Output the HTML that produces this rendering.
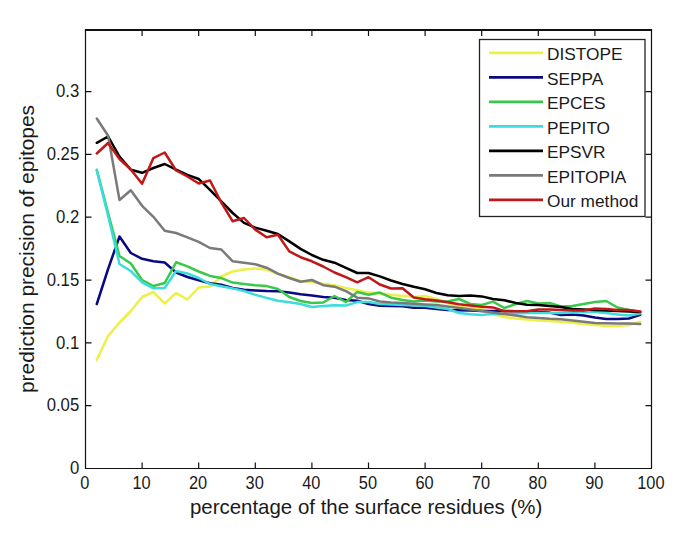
<!DOCTYPE html>
<html><head><meta charset="utf-8"><style>
html,body{margin:0;padding:0;background:#fff;}
body{width:685px;height:543px;overflow:hidden;}
svg{display:block;}
text{font-family:"Liberation Sans",sans-serif;fill:#1a1a1a;}
</style></head><body>
<svg width="685" height="543" viewBox="0 0 685 543">
<rect x="0" y="0" width="685" height="543" fill="#fff"/>

<g fill="none" stroke-width="2.5" stroke-linejoin="round" stroke-linecap="round">
<polyline stroke="#ecf048" points="96.8,359.8 108.1,336.0 119.5,322.5 130.8,311.0 142.1,297.0 153.4,292.0 164.7,303.5 176.1,293.0 187.4,299.5 198.7,287.5 210.0,286.5 221.3,276.5 232.7,271.5 244.0,269.5 255.3,268.5 266.6,269.5 277.9,274.0 289.3,277.2 300.6,281.0 311.9,282.0 323.2,283.7 334.5,285.2 345.9,288.1 357.2,290.3 368.5,292.6 379.8,293.3 391.1,294.8 402.5,296.0 413.8,297.0 425.1,296.0 436.4,299.0 447.7,303.0 459.1,307.0 470.4,308.0 481.7,309.0 493.0,314.0 504.3,317.0 515.7,318.5 527.0,319.5 538.3,320.5 549.6,321.0 560.9,321.8 572.3,322.8 583.6,324.0 594.9,325.0 606.2,326.0 617.5,326.0 628.9,325.0 640.2,322.0"/>
<polyline stroke="#0a0a80" points="96.8,304.0 108.1,269.0 119.5,236.5 130.8,253.0 142.1,258.8 153.4,261.2 164.7,262.5 176.1,272.5 187.4,277.0 198.7,280.2 210.0,283.3 221.3,284.8 232.7,288.0 244.0,289.8 255.3,290.5 266.6,291.0 277.9,291.2 289.3,292.4 300.6,294.2 311.9,295.5 323.2,297.0 334.5,297.7 345.9,299.9 357.2,300.7 368.5,304.0 379.8,305.8 391.1,306.0 402.5,306.2 413.8,307.7 425.1,307.7 436.4,309.0 447.7,310.0 459.1,310.3 470.4,310.6 481.7,311.0 493.0,311.0 504.3,311.0 515.7,311.2 527.0,311.5 538.3,312.0 549.6,312.6 560.9,315.0 572.3,314.6 583.6,315.6 594.9,317.5 606.2,319.0 617.5,319.0 628.9,318.5 640.2,314.7"/>
<polyline stroke="#3ac84a" points="96.8,169.7 108.1,213.0 119.5,256.0 130.8,263.5 142.1,280.0 153.4,286.0 164.7,283.0 176.1,262.3 187.4,266.4 198.7,271.5 210.0,275.9 221.3,278.1 232.7,282.6 244.0,284.0 255.3,285.3 266.6,286.1 277.9,289.0 289.3,297.0 300.6,301.0 311.9,303.0 323.2,302.5 334.5,296.0 345.9,302.0 357.2,292.0 368.5,294.8 379.8,292.6 391.1,297.7 402.5,300.0 413.8,301.5 425.1,300.5 436.4,301.5 447.7,301.5 459.1,299.0 470.4,304.0 481.7,305.0 493.0,301.6 504.3,308.0 515.7,304.0 527.0,301.0 538.3,303.5 549.6,303.0 560.9,306.5 572.3,306.0 583.6,304.0 594.9,302.0 606.2,301.0 617.5,307.5 628.9,310.0 640.2,312.0"/>
<polyline stroke="#3cdcdc" points="96.8,170.5 108.1,216.0 119.5,264.0 130.8,271.0 142.1,282.4 153.4,288.3 164.7,288.0 176.1,271.0 187.4,273.5 198.7,278.0 210.0,284.0 221.3,286.2 232.7,288.4 244.0,291.0 255.3,294.9 266.6,297.9 277.9,300.8 289.3,302.3 300.6,304.0 311.9,307.0 323.2,306.1 334.5,305.2 345.9,305.6 357.2,302.1 368.5,302.1 379.8,304.0 391.1,304.5 402.5,305.0 413.8,305.5 425.1,306.0 436.4,307.6 447.7,309.0 459.1,313.0 470.4,314.2 481.7,315.0 493.0,313.8 504.3,314.0 515.7,313.5 527.0,313.0 538.3,313.0 549.6,313.0 560.9,313.0 572.3,312.5 583.6,312.0 594.9,312.0 606.2,313.1 617.5,314.6 628.9,315.6 640.2,313.4"/>
<polyline stroke="#000000" points="96.8,142.8 108.1,136.5 119.5,156.5 130.8,169.8 142.1,172.8 153.4,168.0 164.7,164.0 176.1,169.7 187.4,174.9 198.7,179.0 210.0,189.8 221.3,201.4 232.7,213.0 244.0,222.9 255.3,227.6 266.6,230.7 277.9,234.0 289.3,241.4 300.6,248.9 311.9,255.0 323.2,259.8 334.5,262.7 345.9,267.8 357.2,273.0 368.5,273.0 379.8,276.4 391.1,280.5 402.5,284.0 413.8,286.8 425.1,289.3 436.4,293.0 447.7,295.2 459.1,296.0 470.4,295.5 481.7,296.4 493.0,299.0 504.3,300.3 515.7,302.9 527.0,304.8 538.3,304.9 549.6,305.9 560.9,307.0 572.3,309.0 583.6,309.5 594.9,310.0 606.2,310.5 617.5,311.0 628.9,311.5 640.2,312.0"/>
<polyline stroke="#7a7a7a" points="96.8,118.5 108.1,135.7 119.5,200.0 130.8,190.3 142.1,205.8 153.4,216.8 164.7,230.8 176.1,233.0 187.4,237.4 198.7,241.9 210.0,248.0 221.3,249.5 232.7,261.3 244.0,262.8 255.3,264.2 266.6,267.7 277.9,273.6 289.3,278.0 300.6,281.7 311.9,280.0 323.2,285.2 334.5,286.7 345.9,291.1 357.2,297.7 368.5,298.4 379.8,301.5 391.1,302.5 402.5,303.0 413.8,303.8 425.1,304.5 436.4,305.0 447.7,306.5 459.1,308.0 470.4,309.5 481.7,311.0 493.0,312.5 504.3,314.0 515.7,315.5 527.0,317.2 538.3,318.0 549.6,318.8 560.9,319.3 572.3,320.4 583.6,321.7 594.9,323.0 606.2,323.2 617.5,323.4 628.9,323.6 640.2,324.0"/>
<polyline stroke="#c01818" points="96.8,153.5 108.1,143.0 119.5,159.0 130.8,169.5 142.1,183.8 153.4,158.1 164.7,152.5 176.1,170.5 187.4,176.5 198.7,183.5 210.0,180.5 221.3,202.5 232.7,221.3 244.0,218.0 255.3,229.6 266.6,237.3 277.9,234.8 289.3,251.4 300.6,257.2 311.9,261.3 323.2,266.5 334.5,272.5 345.9,277.2 357.2,282.3 368.5,277.2 379.8,284.5 391.1,288.5 402.5,288.3 413.8,297.5 425.1,299.3 436.4,300.6 447.7,302.2 459.1,304.2 470.4,305.5 481.7,306.8 493.0,307.4 504.3,311.2 515.7,311.2 527.0,311.2 538.3,309.5 549.6,309.5 560.9,310.0 572.3,310.5 583.6,310.5 594.9,308.5 606.2,309.0 617.5,310.0 628.9,310.0 640.2,311.6"/>
</g>
<g stroke="#111" stroke-width="1.2" fill="none">
<path d="M85.5 30.0V468.5H651.5V30.0"/>
<path d="M84.9 30H652.1" stroke-width="2"/>
<path d="M142.1 468.5v-6 M142.1 30.0v6"/>
<path d="M198.7 468.5v-6 M198.7 30.0v6"/>
<path d="M255.3 468.5v-6 M255.3 30.0v6"/>
<path d="M311.9 468.5v-6 M311.9 30.0v6"/>
<path d="M368.5 468.5v-6 M368.5 30.0v6"/>
<path d="M425.1 468.5v-6 M425.1 30.0v6"/>
<path d="M481.7 468.5v-6 M481.7 30.0v6"/>
<path d="M538.3 468.5v-6 M538.3 30.0v6"/>
<path d="M594.9 468.5v-6 M594.9 30.0v6"/>
<path d="M85.5 405.7h6 M651.5 405.7h-6"/>
<path d="M85.5 342.9h6 M651.5 342.9h-6"/>
<path d="M85.5 280.1h6 M651.5 280.1h-6"/>
<path d="M85.5 217.2h6 M651.5 217.2h-6"/>
<path d="M85.5 154.4h6 M651.5 154.4h-6"/>
<path d="M85.5 91.6h6 M651.5 91.6h-6"/>
</g>
<g font-size="17.8">
<text transform="translate(84.9,488.6) scale(0.92,1)" text-anchor="middle">0</text>
<text transform="translate(141.5,488.6) scale(0.92,1)" text-anchor="middle">10</text>
<text transform="translate(198.1,488.6) scale(0.92,1)" text-anchor="middle">20</text>
<text transform="translate(254.7,488.6) scale(0.92,1)" text-anchor="middle">30</text>
<text transform="translate(311.3,488.6) scale(0.92,1)" text-anchor="middle">40</text>
<text transform="translate(367.9,488.6) scale(0.92,1)" text-anchor="middle">50</text>
<text transform="translate(424.5,488.6) scale(0.92,1)" text-anchor="middle">60</text>
<text transform="translate(481.1,488.6) scale(0.92,1)" text-anchor="middle">70</text>
<text transform="translate(537.7,488.6) scale(0.92,1)" text-anchor="middle">80</text>
<text transform="translate(594.3,488.6) scale(0.92,1)" text-anchor="middle">90</text>
<text transform="translate(650.9,488.6) scale(0.92,1)" text-anchor="middle">100</text>
<text transform="translate(79.2,474.2) scale(0.94,1)" text-anchor="end">0</text>
<text transform="translate(79.2,411.4) scale(0.94,1)" text-anchor="end">0.05</text>
<text transform="translate(79.2,348.6) scale(0.94,1)" text-anchor="end">0.1</text>
<text transform="translate(79.2,285.8) scale(0.94,1)" text-anchor="end">0.15</text>
<text transform="translate(79.2,222.9) scale(0.94,1)" text-anchor="end">0.2</text>
<text transform="translate(79.2,160.1) scale(0.94,1)" text-anchor="end">0.25</text>
<text transform="translate(79.2,97.3) scale(0.94,1)" text-anchor="end">0.3</text>
</g>
<text x="189.9" y="514" font-size="20.47">percentage of the surface residues (%)</text>
<text transform="translate(34.2,249) rotate(-90)" text-anchor="middle" font-size="20.9">prediction precision of epitopes</text>
<rect x="479.5" y="39.5" width="165.5" height="177" fill="#fff" stroke="#222" stroke-width="1.3"/>
<path d="M489 52.9H543" stroke="#ecf048" stroke-width="2.6"/>
<text x="547" y="60.1" font-size="17.3">DISTOPE</text>
<path d="M489 77.4H543" stroke="#0a0a80" stroke-width="2.6"/>
<text x="547" y="84.6" font-size="17.3">SEPPA</text>
<path d="M489 101.9H543" stroke="#3ac84a" stroke-width="2.6"/>
<text x="547" y="109.1" font-size="17.3">EPCES</text>
<path d="M489 126.4H543" stroke="#3cdcdc" stroke-width="2.6"/>
<text x="547" y="133.6" font-size="17.3">PEPITO</text>
<path d="M489 150.9H543" stroke="#000000" stroke-width="2.6"/>
<text x="547" y="158.1" font-size="17.3">EPSVR</text>
<path d="M489 175.4H543" stroke="#7a7a7a" stroke-width="2.6"/>
<text x="547" y="182.6" font-size="17.3">EPITOPIA</text>
<path d="M489 199.9H543" stroke="#c01818" stroke-width="2.6"/>
<text x="547" y="207.1" font-size="17.3">Our method</text>
</svg></body></html>
